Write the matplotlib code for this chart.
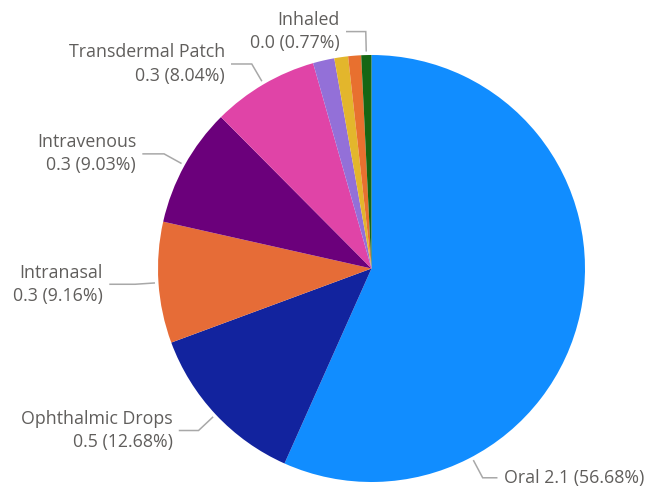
import numpy as np
import matplotlib

matplotlib.use('Agg')
import matplotlib.pyplot as plt

# routes of administration, clockwise from 12 o'clock
routes = ['Oral', 'Ophthalmic Drops', 'Intranasal', 'Intravenous',
          'Transdermal Patch', None, None, None, 'Inhaled']
values = [2.0972, 0.46916, 0.33892, 0.33411, 0.29748,
          0.05994, 0.03848, 0.03626, 0.02849]
colors = ['#118DFF', '#12239E', '#E66C37', '#6B007B', '#E044A7',
          '#9370D8', '#E3B62C', '#E8702F', '#166614']

# where along each slice the leader line attaches (0.5 = middle)
anchor_frac = [0.745, 0.5, 0.5, 0.5, 0.5, 0.5, 0.5, 0.5, 0.5]
# horizontal arm of each leader, in pixels
arm_px = [14, 19, 25, 21, 20, 0, 0, 0, 19]
single_line = ['Oral']

R_PX = 213.5
TEXT_COLOR = '#605E5C'
LINE_COLOR = '#A8A8A8'

plt.rcParams['font.family'] = ['Open Sans', 'DejaVu Sans']

fig = plt.figure(figsize=(6.66, 4.9), dpi=100)
cx, cy = 371.5, 490 - 268.5
ax = fig.add_axes([(cx - R_PX) / 666, (cy - R_PX) / 490,
                   2 * R_PX / 666, 2 * R_PX / 490])

wedges, _ = ax.pie(values, colors=colors, startangle=90, counterclock=False,
                   radius=1, wedgeprops={'linewidth': 0})
ax.set_xlim(-1, 1)
ax.set_ylim(-1, 1)
ax.axis('off')

total = sum(values)
for w, name, v, frac, arm in zip(wedges, routes, values, anchor_frac, arm_px):
    if name is None:
        continue
    pct = v / total * 100
    # clockwise wedge: theta2 is where it starts, theta1 where it ends
    ang = np.deg2rad(w.theta2 - frac * (w.theta2 - w.theta1))
    dx, dy = np.cos(ang), np.sin(ang)
    side = 1 if dx > 0 else -1
    x0, y0 = 1.02 * dx, 1.02 * dy
    x1, y1 = 1.11 * dx, 1.11 * dy
    x2 = x1 + side * arm / R_PX
    ax.plot([x0, x1, x2], [y0, y1, y1], color=LINE_COLOR, lw=1.1,
            clip_on=False, solid_joinstyle='miter')
    if name in single_line:
        label = f'{name} {v:.1f} ({pct:.2f}%)'
    else:
        label = f'{name}\n{v:.1f} ({pct:.2f}%)'
    ax.text(x2 + side * 7 / R_PX, y1, label, ha='left' if side > 0 else 'right',
            va='center', fontsize=12.8, color=TEXT_COLOR, linespacing=1.36,
            multialignment='right' if side < 0 else 'left')

fig.savefig('out.png', dpi=100)
